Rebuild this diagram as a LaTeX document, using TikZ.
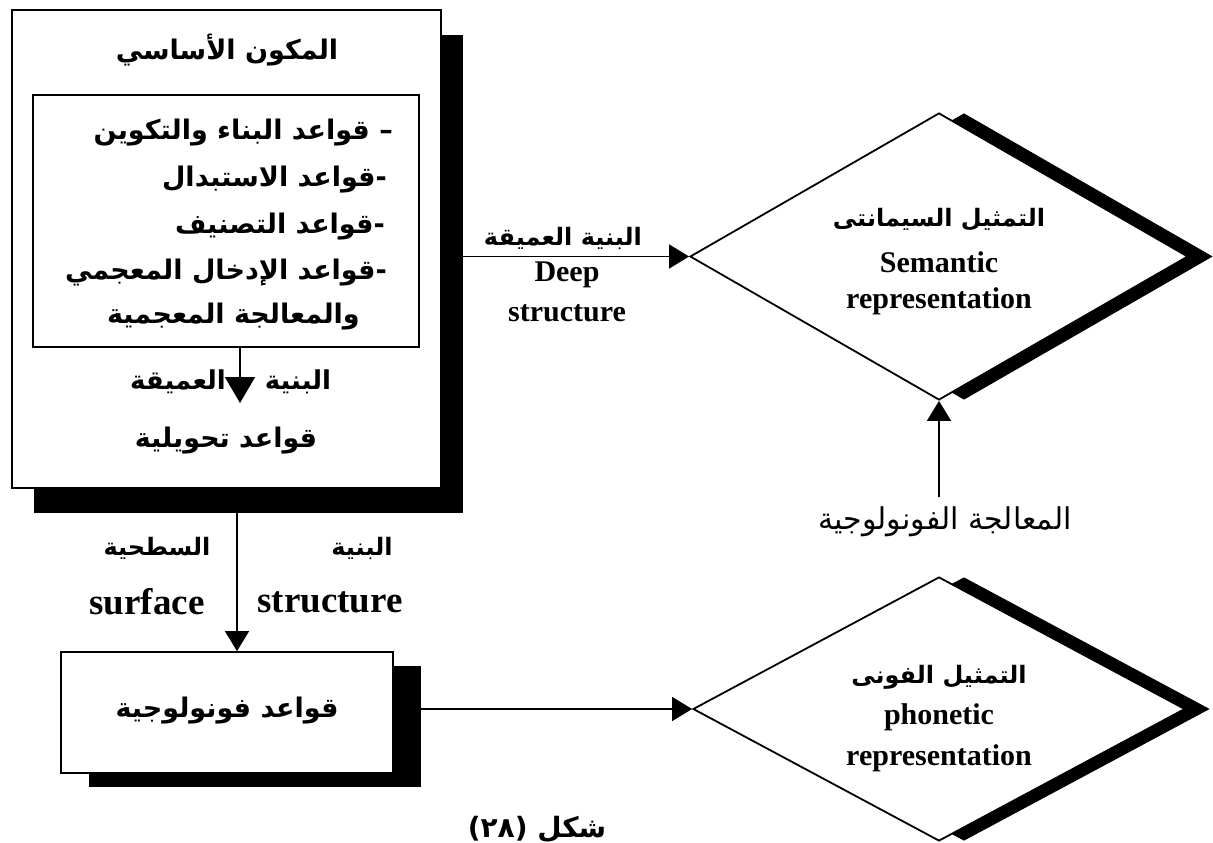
\documentclass[tikz,border=0pt]{standalone}
\usepackage{fontspec}
\TeXXeTstate=1
\newfontfamily\arabicfont[Script=Arabic]{DejaVu Sans}
\newfontfamily\engfont{Liberation Serif}
\usetikzlibrary{arrows.meta,shapes.geometric,shadows}
\tikzset{
  boxst/.style={draw, fill=white, line width=1.8pt, inner sep=0pt},
  diast/.style={diamond, draw, fill=white, line width=1.8pt, inner sep=0pt,
     drop shadow={shadow xshift=25pt, shadow yshift=0pt, opacity=1, fill=black}},
  arb/.style={font={\arabicfont\bfseries\fontsize{27}{31}\selectfont}, inner sep=0pt},
  arm/.style={font={\arabicfont\bfseries\fontsize{26}{30}\selectfont}, inner sep=0pt},
  ars/.style={font={\arabicfont\bfseries\fontsize{24}{28}\selectfont}, inner sep=0pt},
  arr/.style={font={\arabicfont\fontsize{30}{34}\selectfont}, inner sep=0pt},
  engb/.style={font={\engfont\bfseries\fontsize{30}{34}\selectfont}, inner sep=0pt},
  engs/.style={font={\engfont\bfseries\fontsize{37}{41}\selectfont}, inner sep=0pt},
  conn/.style={line width=1.5pt},
  arrow/.style={conn, -{Triangle[length=20pt,width=24pt]}},
  bigarrow/.style={conn, -{Triangle[length=26pt,width=30pt]}}
}
\begin{document}
\begin{tikzpicture}[x=1pt,y=-1pt]
\useasboundingbox (0,0) rectangle (1213,843);
\fill[white] (0,0) rectangle (1213,843);

% main component
\node[boxst, minimum width=429pt, minimum height=478pt,
  drop shadow={shadow xshift=22pt, shadow yshift=-25pt, opacity=1, fill=black}]
  (outer) at (226.5,249) {};
\node[arb] (title) at (227,50) {\beginR المكون الأساسي\endR};
\node[boxst, minimum width=386pt, minimum height=252pt] (inner) at (226,221) {};
\node[arb, anchor=east] (l1) at (393,133) {\beginR قواعد البناء والتكوين\endR\ –};
\node[arb, anchor=east] (l2) at (387,180) {\beginR قواعد الاستبدال\endR-};
\node[arb, anchor=east] (l3) at (385,227) {\beginR قواعد التصنيف\endR-};
\node[arb, anchor=east] (l4) at (387,273) {\beginR قواعد الإدخال المعجمي\endR-};
\node[arb, anchor=east] (l5) at (360,317) {\beginR والمعالجة المعجمية\endR};
\coordinate (ia) at (240,403);
\draw[bigarrow] (inner.south -| ia) -- (ia);
\node[arm] (ds1) at (298,382) {\beginR البنية\endR};
\node[arm] (ds2) at (178,382) {\beginR العميقة\endR};
\node[arb] (trans) at (226,441) {\beginR قواعد تحويلية\endR};

% phonological rules box
\node[boxst, minimum width=332pt, minimum height=121pt,
  drop shadow={shadow xshift=28pt, shadow yshift=-14pt, opacity=1, fill=black}]
  (lower) at (227,712.5) {};
\node[arb] (phr) at (227,711) {\beginR قواعد فونولوجية\endR};

% diamonds
\node[diast, minimum width=498pt, minimum height=287pt] (sem) at (939,256.5) {};
\node[ars] (sem1) at (939,220) {\beginR التمثيل السيمانتى\endR};
\node[engb] (sem2) at (939,262) {Semantic};
\node[engb] (sem3) at (939,301) {representation};

\node[diast, minimum width=492pt, minimum height=264pt] (phon) at (939,709) {};
\node[ars] (phon1) at (939,677) {\beginR التمثيل الفونى\endR};
\node[engb] (phon2) at (939,717) {phonetic};
\node[engb] (phon3) at (939,758) {representation};

% deep structure connector
\draw[arrow] (outer.east |- sem.west) -- (sem.west);
\node[ars] (dsa) at (563,238) {\beginR البنية العميقة\endR};
\node[engb] (dse1) at (567,275) {Deep};
\node[engb] (dse2) at (567,313) {structure};

% surface structure connector
\coordinate (sx) at (237,0);
\draw[arrow] (outer.south -| sx) -- (lower.north -| sx);
\node[ars] (ss1) at (362,548) {\beginR البنية\endR};
\node[ars] (ss2) at (157,548) {\beginR السطحية\endR};
\node[engs] (ss3) at (147,602) {surface};
\node[engs] (ss4) at (330,602) {structure};

% phonetic connector
\draw[arrow] (lower.east |- phon.west) -- (phon.west);

% phonological processing
\node[arr] (proc) at (945,522) {\beginR المعالجة الفونولوجية\endR};
\coordinate (pst) at (939,497);
\draw[arrow] (pst) -- (sem.south);

% caption
\node[arb, anchor=south, font={\arabicfont\bfseries\fontsize{28}{32}\selectfont}] (cap) at (537,843) {(٢٨) \beginR شكل\endR};
\end{tikzpicture}
\end{document}
